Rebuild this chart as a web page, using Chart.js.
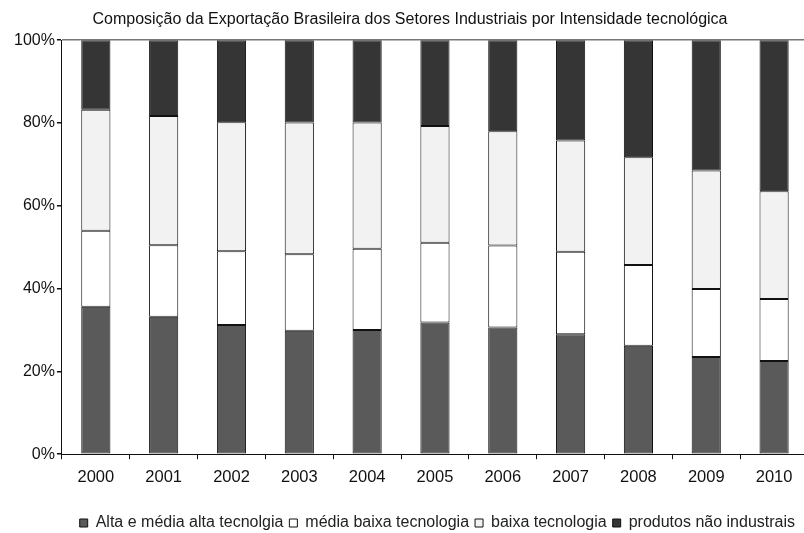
<!DOCTYPE html>
<html>
<head>
<meta charset="utf-8">
<script src="https://cdn.jsdelivr.net/npm/chart.js@4.4.1/dist/chart.umd.min.js"></script>
<style>
  html, body { margin: 0; padding: 0; background: #fff; overflow: hidden; }
  #wrap { width: 810px; height: 533px; }
</style>
</head>
<body>
<div id="wrap"><canvas id="expChart"></canvas></div>
<script>
const anos = ['2000', '2001', '2002', '2003', '2004', '2005', '2006', '2007', '2008', '2009', '2010'];
const altaMediaAlta = [35.6, 33.2, 31.2, 29.8, 30.0, 31.8, 30.6, 29.0, 26.2, 23.5, 22.5];
const mediaBaixa = [18.4, 17.3, 17.8, 18.5, 19.6, 19.3, 19.8, 19.9, 19.5, 16.4, 15.0];
const baixa = [29.2, 31.2, 31.2, 31.8, 30.5, 28.2, 27.6, 26.9, 26.0, 28.6, 26.0];
const naoIndustriais = [16.8, 18.3, 19.8, 19.9, 19.9, 20.7, 22.0, 24.2, 28.3, 31.5, 36.5];
const yTicks = [0, 20, 40, 60, 80, 100];

Chart.defaults.font.family = '"Liberation Sans", Arial, sans-serif';
Chart.defaults.color = '#222';

const barBase = {
    borderColor: '#111',
    borderWidth: 1,
    borderSkipped: false,
    barPercentage: 0.43,
    categoryPercentage: 1.0,
};

// nudge the legend row: a bit left of the right edge and closer to the bottom
const legendNudge = {
    id: 'legendNudge',
    afterLayout(chart) {
        const lg = chart.legend;
        lg.left -= 7;
        lg.right -= 7;
        lg.top += 8;
        lg.bottom += 8;
    },
};

const ctx = document.getElementById('expChart').getContext('2d');
new Chart(ctx, {
    type: 'bar',
    data: {
        labels: anos,
        datasets: [
            { ...barBase, label: 'Alta e média alta tecnolgia', data: altaMediaAlta, backgroundColor: '#5a5a5a' },
            { ...barBase, label: 'média baixa tecnologia', data: mediaBaixa, backgroundColor: '#ffffff' },
            { ...barBase, label: 'baixa tecnologia', data: baixa, backgroundColor: '#f2f2f2' },
            { ...barBase, label: 'produtos não industrais', data: naoIndustriais, backgroundColor: '#353535' },
        ]
    },
    plugins: [legendNudge],
    options: {
        responsive: true,
        maintainAspectRatio: false,
        animation: false,
        layout: { padding: { left: 12, right: 2, top: 0, bottom: 0 } },
        plugins: {
            title: {
                display: true,
                text: 'Composição da Exportação Brasileira dos Setores Industriais por Intensidade tecnológica',
                font: { size: 16, weight: 'normal' },
                color: '#111',
                padding: { top: 10, bottom: 11 },
            },
            legend: {
                position: 'bottom',
                align: 'end',
                labels: {
                    boxWidth: 8,
                    boxHeight: 8,
                    padding: 6,
                    font: { size: 16 },
                    color: '#222',
                },
            },
            tooltip: { enabled: false },
        },
        scales: {
            x: {
                stacked: true,
                // leave room between the year labels and the legend
                afterFit: (axis) => { axis.height += 6; },
                grid: {
                    display: true,
                    offset: true,
                    drawOnChartArea: false,
                    drawTicks: true,
                    tickLength: 5,
                    tickColor: '#111',
                },
                border: { display: true, color: '#111', width: 1 },
                ticks: { font: { size: 16.5 }, color: '#111', padding: 8 },
            },
            y: {
                stacked: true,
                min: 0,
                max: 100,
                afterBuildTicks: (axis) => {
                    axis.ticks = yTicks.map(v => ({ value: v }));
                },
                grid: {
                    drawOnChartArea: true,
                    drawTicks: true,
                    tickLength: 5,
                    tickColor: '#111',
                    color: (c) => (c.tick && c.tick.value === 100 ? '#777' : 'rgba(0,0,0,0)'),
                    lineWidth: 1.5,
                },
                border: { display: true, color: '#111', width: 1 },
                ticks: {
                    font: { size: 16 },
                    color: '#111',
                    padding: 2,
                    callback: (v) => v + '%',
                },
            },
        },
    },
});
</script>
</body>
</html>
